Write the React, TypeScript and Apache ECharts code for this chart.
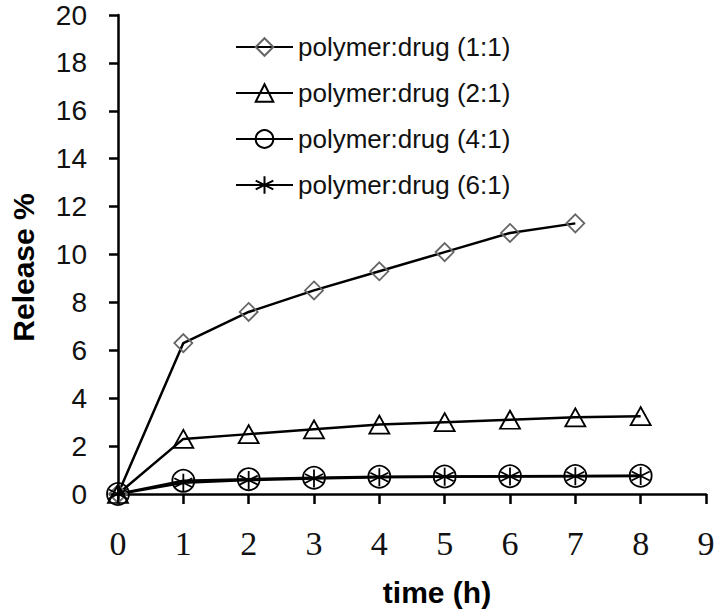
import React, { useEffect, useRef } from "react";
import * as echarts from "echarts";

const times = [0, 1, 2, 3, 4, 5, 6, 7, 8];
const seriesNames = [
  "polymer:drug (1:1)",
  "polymer:drug (2:1)",
  "polymer:drug (4:1)",
  "polymer:drug (6:1)",
];
const release11 = [0, 6.3, 7.6, 8.5, 9.3, 10.1, 10.9, 11.3];
const release21 = [0, 2.3, 2.5, 2.7, 2.9, 3.0, 3.1, 3.2, 3.25];
const release41 = [0, 0.55, 0.62, 0.68, 0.72, 0.73, 0.74, 0.75, 0.76];
const release61 = [0, 0.47, 0.58, 0.65, 0.7, 0.72, 0.73, 0.74, 0.75];
const xTicks = { min: 0, max: 9, interval: 1 };
const yTicks = { min: 0, max: 20, interval: 2 };

const asterisk =
  "path://M10,0L10,20M1.34,5L18.66,15M1.34,15L18.66,5";

function pairs(vals: number[]) {
  return vals.map((v, i) => [times[i], v]);
}

export default function App() {
  const ref = useRef<HTMLDivElement>(null);
  useEffect(() => {
    if (!ref.current) return;
    const chart = echarts.init(ref.current, undefined, { renderer: "svg" });
    const mk = (
      name: string,
      vals: number[],
      symbol: string,
      size: number | number[],
      border: string
    ) => ({
      name,
      type: "line",
      data: pairs(vals),
      symbol,
      symbolSize: size,
      showAllSymbol: true,
      lineStyle: { color: "#000", width: 2.5 },
      itemStyle: { color: "transparent", borderColor: border, borderWidth: 1.8 },
      emphasis: { disabled: true },
    });
    chart.setOption({
      animation: false,
      backgroundColor: "#fff",
      grid: { left: 105, right: 12, top: 15, bottom: 119, containLabel: false },
      legend: {
        orient: "vertical",
        left: 230,
        top: 29,
        itemWidth: 57,
        itemHeight: 22,
        itemGap: 20,
        data: seriesNames,
        textStyle: { fontFamily: "Liberation Sans", fontSize: 26, color: "#111" },
      },
      xAxis: {
        type: "value",
        ...xTicks,
        name: "time (h)",
        nameLocation: "middle",
        nameGap: 83,
        nameTextStyle: {
          fontFamily: "Liberation Sans",
          fontWeight: "bold",
          fontSize: 30,
          color: "#000",
          padding: [0, 0, 0, 50],
        },
        axisLine: { lineStyle: { color: "#000", width: 2.5 } },
        axisTick: { show: true, length: 10, lineStyle: { color: "#000", width: 2.5 } },
        axisLabel: {
          margin: 32,
          fontFamily: "Liberation Serif",
          fontSize: 34,
          color: "#111",
        },
        splitLine: { show: false },
      },
      yAxis: {
        type: "value",
        ...yTicks,
        name: "Release %",
        nameLocation: "middle",
        nameGap: 80,
        nameTextStyle: {
          fontFamily: "Liberation Sans",
          fontWeight: "bold",
          fontSize: 30,
          color: "#000",
          padding: [0, 26, 0, 0],
        },
        axisLine: { show: true, lineStyle: { color: "#000", width: 2.5 } },
        axisTick: { show: true, length: 9, lineStyle: { color: "#000", width: 2.5 } },
        axisLabel: {
          margin: 31,
          fontFamily: "Liberation Sans",
          fontSize: 28,
          color: "#111",
        },
        splitLine: { show: false },
      },
      series: [
        mk(seriesNames[0], release11, "diamond", 18, "#666"),
        mk(seriesNames[1], release21, "triangle", [20, 18], "#000"),
        mk(seriesNames[2], release41, "circle", 22, "#000"),
        mk(seriesNames[3], release61, asterisk, 18, "#000"),
      ],
    });
    return () => chart.dispose();
  }, []);
  return (
    <div
      ref={ref}
      style={{ position: "absolute", left: 0, top: 0, width: 718, height: 613 }}
    />
  );
}
